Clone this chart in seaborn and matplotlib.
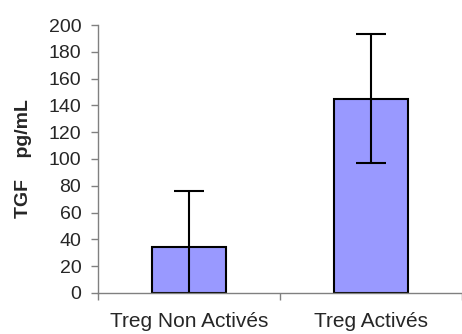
import matplotlib
matplotlib.use("Agg")
import matplotlib.pyplot as plt
import seaborn as sns
import pandas as pd
import numpy as np

categories = ["Treg Non Activés", "Treg Activés"]
values = [34, 145]
errors = [42, 48]

sns.set_style("white")
plt.rcParams['font.family'] = ['Liberation Sans', 'DejaVu Sans']

df = pd.DataFrame({"cat": categories, "val": values})

fig = plt.figure(figsize=(4.62, 3.34), dpi=100)
ax = fig.add_axes([0.212, 0.123, 0.788, 0.802])

sns.barplot(data=df, x="cat", y="val", color="#9999FF", saturation=1,
            edgecolor="black", linewidth=1.5, width=0.41, ax=ax, errorbar=None)
ax.errorbar(range(len(categories)), values, yerr=errors, fmt="none",
            ecolor="black", elinewidth=1.5, capsize=11, capthick=1.5)

ax.set_xlim(-0.5, len(categories) - 0.5)
ax.set_ylim(0, 200)
ax.set_yticks(np.arange(0, 201, 20))
ax.set_xlabel("")
ax.set_ylabel("TGF    pg/mL", fontsize=14, fontweight="bold")
ax.yaxis.set_label_coords(-0.18, 0.5)
ax.tick_params(axis="y", labelsize=14, length=5, width=1, color="#808080",
               left=True, direction="out", pad=7)
ax.set_xticks(range(len(categories)))
ax.set_xticklabels(categories)
ax.tick_params(axis="x", which="major", length=0, labelsize=15, pad=14)
ax.set_xticks([-0.5, 0.5, 1.5], minor=True)
ax.tick_params(axis="x", which="minor", length=5, width=1, color="#808080",
               bottom=True, direction="out")
for s in ["top", "right"]:
    ax.spines[s].set_visible(False)
for s in ["left", "bottom"]:
    ax.spines[s].set_color("#808080")
    ax.spines[s].set_linewidth(1)

fig.savefig("out.png", dpi=100)
